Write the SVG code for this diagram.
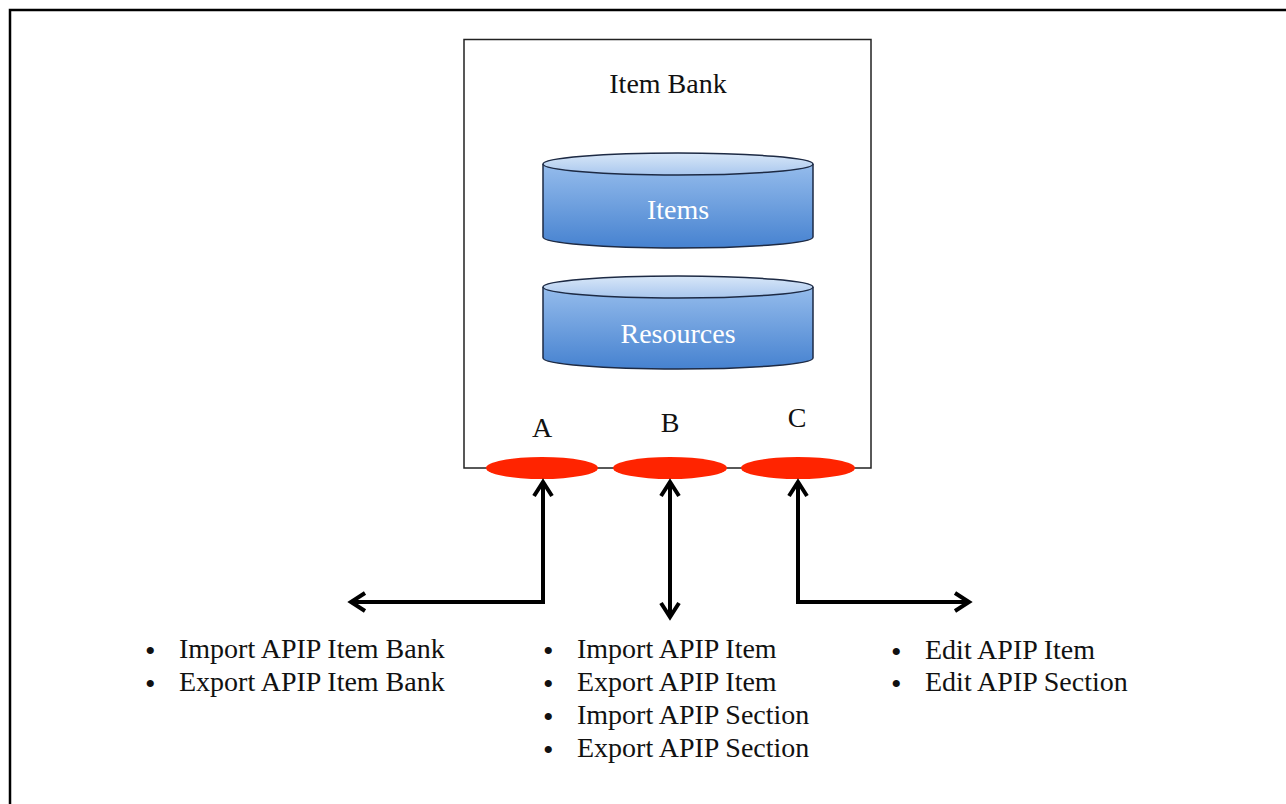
<svg xmlns="http://www.w3.org/2000/svg" width="1286" height="804" viewBox="0 0 1286 804">
<style>
.t{font-family:"Liberation Serif","Times New Roman",serif;font-size:28px;fill:#111}
.b{font-family:"Liberation Serif","Times New Roman",serif;font-size:30px;fill:#111}
.w{font-family:"Liberation Serif","Times New Roman",serif;font-size:28px;fill:#fff}
.cyl{stroke:#1d2a44;stroke-width:1.5}
.arr{fill:none;stroke:#000;stroke-width:4;stroke-linejoin:miter}
.head{fill:none;stroke:#000;stroke-width:4;stroke-linecap:butt}
</style>
<defs>
<linearGradient id="body" x1="0" y1="0" x2="0" y2="1">
<stop offset="0" stop-color="#95bcec"/>
<stop offset="1" stop-color="#4682d0"/>
</linearGradient>
<linearGradient id="top" x1="0" y1="0" x2="0" y2="1">
<stop offset="0" stop-color="#d8e7f8"/>
<stop offset="1" stop-color="#a9c7ee"/>
</linearGradient>
</defs>
<rect width="1286" height="804" fill="#fff"/>
<path d="M10 804 V10 H1286" fill="none" stroke="#000" stroke-width="2.5"/>

<g id="itembank">
<rect x="464" y="39.5" width="407" height="428.5" fill="#fff" stroke="#222" stroke-width="1.5"/>
<text class="t" x="668" y="93" text-anchor="middle">Item Bank</text>
</g>

<g id="items">
<path class="cyl" d="M543 164 V237 A135 11 0 0 0 813 237 V164" fill="url(#body)"/>
<ellipse class="cyl" cx="678" cy="164" rx="135" ry="11" fill="url(#top)"/>
<text class="w" x="678" y="219" text-anchor="middle">Items</text>
</g>

<g id="resources">
<path class="cyl" d="M543 287 V358 A135 11 0 0 0 813 358 V287" fill="url(#body)"/>
<ellipse class="cyl" cx="678" cy="287" rx="135" ry="11" fill="url(#top)"/>
<text class="w" x="678" y="343" text-anchor="middle">Resources</text>
</g>

<g id="portA">
<ellipse cx="542" cy="468" rx="56" ry="11" fill="#ff2400"/>
<text class="t" x="542" y="437" text-anchor="middle">A</text>
</g>
<g id="portB">
<ellipse cx="670" cy="468" rx="57" ry="11" fill="#ff2400"/>
<text class="t" x="670" y="432" text-anchor="middle">B</text>
</g>
<g id="portC">
<ellipse cx="798" cy="468" rx="57" ry="11" fill="#ff2400"/>
<text class="t" x="797" y="427" text-anchor="middle">C</text>
</g>

<g id="connectors">
<path class="arr" d="M543 482 V602 H352"/>
<path class="head" d="M534 496 L543 482 L552 496"/>
<path class="head" d="M365 593 L351 602 L365 611"/>
<path class="arr" d="M670 482 V617"/>
<path class="head" d="M661 496 L670 482 L679 496"/>
<path class="head" d="M661 603 L670 617 L679 603"/>
<path class="arr" d="M798 482 V602 H968"/>
<path class="head" d="M789 496 L798 482 L807 496"/>
<path class="head" d="M955 593 L969 602 L955 611"/>
</g>

<g id="listA">
<text class="b" x="145" y="661">•</text><text class="t" x="179" y="658">Import APIP Item Bank</text>
<text class="b" x="145" y="694">•</text><text class="t" x="179" y="691">Export APIP Item Bank</text>
</g>
<g id="listB">
<text class="b" x="543" y="661">•</text><text class="t" x="577" y="658">Import APIP Item</text>
<text class="b" x="543" y="694">•</text><text class="t" x="577" y="691">Export APIP Item</text>
<text class="b" x="543" y="727">•</text><text class="t" x="577" y="724">Import APIP Section</text>
<text class="b" x="543" y="760">•</text><text class="t" x="577" y="757">Export APIP Section</text>
</g>
<g id="listC">
<text class="b" x="891" y="662">•</text><text class="t" x="925" y="659">Edit APIP Item</text>
<text class="b" x="891" y="694">•</text><text class="t" x="925" y="691">Edit APIP Section</text>
</g>
</svg>
